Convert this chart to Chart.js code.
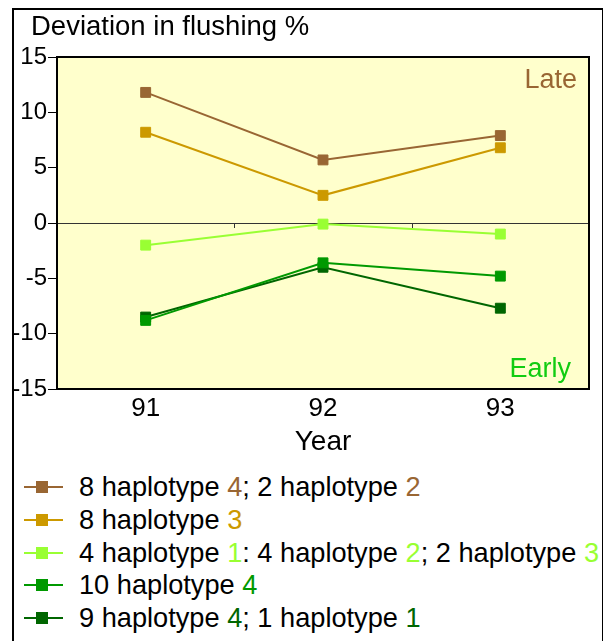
<!DOCTYPE html>
<html>
<head>
<meta charset="utf-8">
<script src="https://cdn.jsdelivr.net/npm/chart.js@4/dist/chart.umd.min.js"></script>
<style>
  html, body { margin: 0; padding: 0; background: #fff; overflow: hidden; }
  body { width: 603px; height: 641px; position: relative; font-family: "Liberation Sans", Arial, sans-serif; }
  #frame { position: absolute; left: 12px; top: 8px; width: 588px; height: 700px; border: 2px solid #000; border-bottom: none; z-index: 0; }
  #title { position: absolute; left: 31px; top: 10px; height: 32px; line-height: 32px; font-size: 27.5px; color: #000; z-index: 2; white-space: nowrap; }
  #wrap { position: absolute; left: 0; top: 0; width: 603px; height: 460px; z-index: 1; }
  #legend { position: absolute; left: 24px; top: 471px; z-index: 1; }
  .row { height: 32.7px; display: flex; align-items: center; font-size: 27.2px; color: #000; white-space: nowrap; }
  .sym { position: relative; width: 39px; height: 12px; margin-right: 16px; flex: none; }
  .sym .ln { position: absolute; left: 0; right: 0; top: 5px; height: 2px; }
  .sym .mk { position: absolute; left: 12px; top: 0px; width: 10px; height: 10px; border: 1px solid; }
</style>
</head>
<body>
<div id="frame"></div>
<div id="title">Deviation in flushing %</div>
<div id="wrap"><canvas id="c" width="603" height="460"></canvas></div>
<div id="legend"></div>
<script>
// ---- data ----
const years = ["91", "92", "93"];
const yTicks = [-15, -10, -5, 0, 5, 10, 15];
const seriesNames = [
  "8 haplotype 4; 2 haplotype 2",
  "8 haplotype 3",
  "4 haplotype 1: 4 haplotype 2; 2 haplotype 3",
  "10 haplotype 4",
  "9 haplotype 4; 1 haplotype 1"
];
const h8_4_2_2 = [11.8, 5.7, 7.9];
const h8_3 = [8.2, 2.5, 6.8];
const h4_1_4_2_2_3 = [-2.0, -0.1, -1.0];
const h10_4 = [-8.8, -3.6, -4.8];
const h9_4_1_1 = [-8.5, -4.0, -7.7];
const seriesColors = ["#996633", "#CC9900", "#99FF33", "#009900", "#006600"];
// legend text parts: [text, coloured?]
const legendParts = [
  [["8 haplotype ", 0], ["4", 1], ["; 2 haplotype ", 0], ["2", 1]],
  [["8 haplotype ", 0], ["3", 1]],
  [["4 haplotype ", 0], ["1", 1], [": 4 haplotype ", 0], ["2", 1], ["; 2 haplotype ", 0], ["3", 1]],
  [["10 haplotype ", 0], ["4", 1]],
  [["9 haplotype ", 0], ["4", 1], ["; 1 haplotype ", 0], ["1", 1]]
];
const FONT = '"Liberation Sans", Arial, sans-serif';

const allSeries = [h8_4_2_2, h8_3, h4_1_4_2_2_3, h10_4, h9_4_1_1];

const plotDeco = {
  id: 'plotDeco',
  beforeDatasetsDraw(chart) {
    const { ctx, chartArea: a, scales } = chart;
    ctx.save();
    ctx.fillStyle = '#FFFFCC';
    ctx.fillRect(a.left, a.top, a.right - a.left, a.bottom - a.top);
    // zero line with ticks between categories
    const y0 = scales.y.getPixelForValue(0);
    ctx.strokeStyle = '#333';
    ctx.lineWidth = 1;
    ctx.beginPath();
    ctx.moveTo(a.left, Math.round(y0) + 0.5);
    ctx.lineTo(a.right, Math.round(y0) + 0.5);
    for (let i = 0; i < years.length - 1; i++) {
      const xm = Math.round((scales.x.getPixelForValue(i) + scales.x.getPixelForValue(i + 1)) / 2) + 0.5;
      ctx.moveTo(xm, y0);
      ctx.lineTo(xm, y0 + 5);
    }
    ctx.stroke();
    // annotations
    ctx.font = '27px ' + FONT;
    ctx.textAlign = 'right';
    ctx.textBaseline = 'middle';
    ctx.fillStyle = '#996633';
    ctx.fillText('Late', a.right - 12, scales.y.getPixelForValue(12.9));
    ctx.fillStyle = '#11CC11';
    ctx.fillText('Early', a.right - 18, scales.y.getPixelForValue(-13.2));
    ctx.restore();
  },
  afterDraw(chart) {
    const { ctx, chartArea: a } = chart;
    ctx.save();
    ctx.strokeStyle = '#000';
    ctx.lineWidth = 2;
    ctx.strokeRect(a.left, a.top, a.right - a.left, a.bottom - a.top);
    ctx.restore();
  }
};

new Chart(document.getElementById('c'), {
  type: 'line',
  data: {
    labels: years,
    datasets: allSeries.map((d, i) => ({
      label: seriesNames[i],
      data: d,
      borderColor: seriesColors[i],
      backgroundColor: seriesColors[i],
      pointBackgroundColor: seriesColors[i],
      pointBorderColor: seriesColors[i],
      borderWidth: 2,
      pointStyle: 'rect',
      pointRadius: 7,
      pointBorderWidth: 1,
      tension: 0,
      fill: false,
      clip: false
    }))
  },
  options: {
    responsive: false,
    animation: false,
    layout: { padding: { left: 0, right: 14, top: 57, bottom: 0 } },
    plugins: {
      legend: { display: false },
      tooltip: { enabled: false },
      title: { display: false }
    },
    scales: {
      x: {
        offset: true,
        afterFit(s) { s.height = 71; },
        grid: { display: false, drawTicks: false },
        border: { display: false },
        ticks: { color: '#000', padding: 4, font: { family: FONT, size: 26 } },
        title: { display: true, text: 'Year', color: '#000', padding: { top: 2, bottom: 1 }, font: { family: FONT, size: 28 } }
      },
      y: {
        min: -15, max: 15,
        afterFit(s) { s.width = 57; },
        afterBuildTicks(s) { s.ticks = yTicks.map(v => ({ value: v })); },
        grid: { drawOnChartArea: false, drawTicks: true, tickLength: 9, color: '#000', lineWidth: 1 },
        border: { display: true, color: '#000', width: 2 },
        ticks: { color: '#000', padding: 1, font: { family: FONT, size: 24 } }
      }
    }
  },
  plugins: [plotDeco]
});

// HTML legend
const lg = document.getElementById('legend');
legendParts.forEach((parts, i) => {
  const row = document.createElement('div');
  row.className = 'row';
  const sym = document.createElement('div');
  sym.className = 'sym';
  const ln = document.createElement('div');
  ln.className = 'ln';
  ln.style.background = seriesColors[i];
  const mk = document.createElement('div');
  mk.className = 'mk';
  mk.style.background = seriesColors[i];
  mk.style.borderColor = seriesColors[i];
  sym.appendChild(ln); sym.appendChild(mk);
  row.appendChild(sym);
  parts.forEach(([t, c]) => {
    const sp = document.createElement('span');
    sp.textContent = t;
    sp.style.whiteSpace = 'pre';
    if (c) sp.style.color = seriesColors[i];
    row.appendChild(sp);
  });
  lg.appendChild(row);
});
</script>
</body>
</html>
